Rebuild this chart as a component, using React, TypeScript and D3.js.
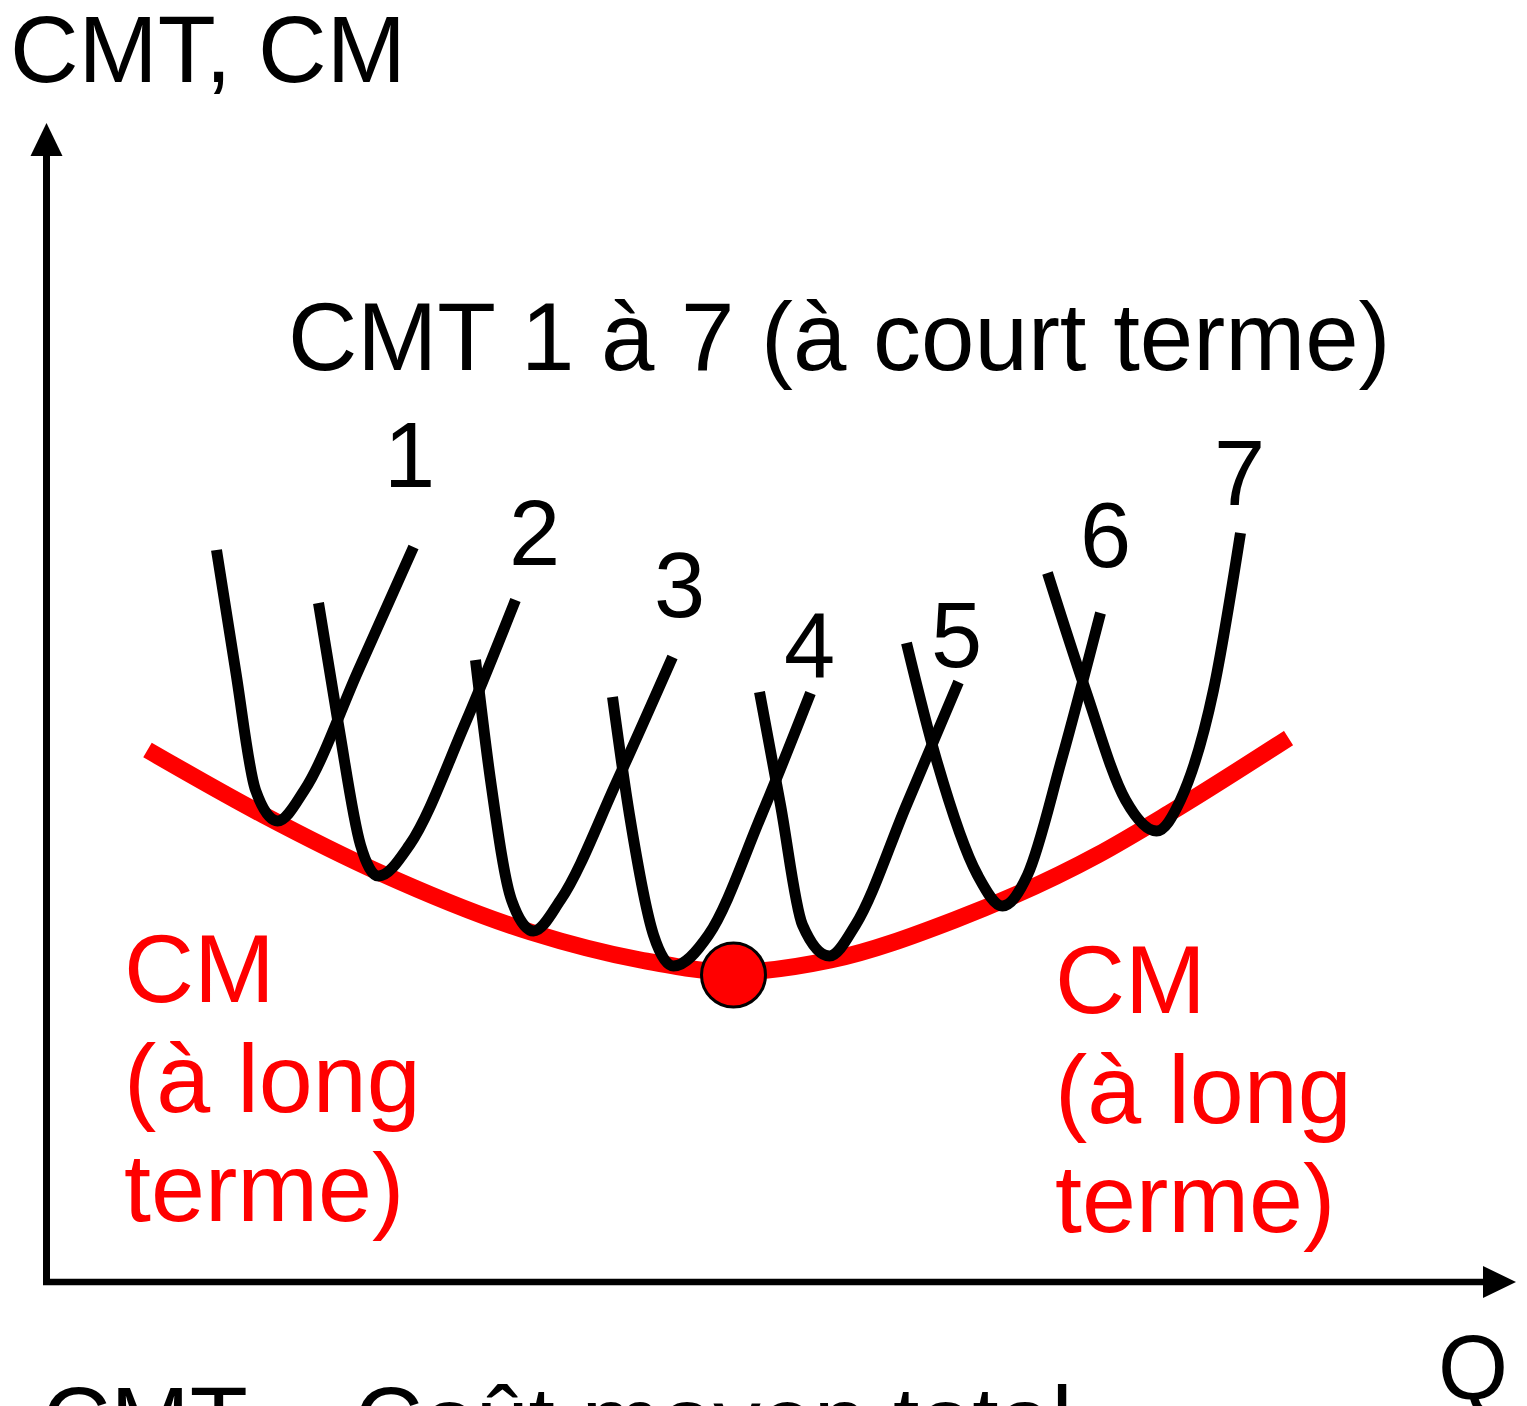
import React from 'react';
import * as d3 from 'd3';

// Q = quantité, C = coût (unités)
type Pt = [number, number];

// CM à long terme (courbe rouge)
const cmLongTerme: Pt[] = [
  [101, 532], [217, 467], [334, 409], [484, 350], [594, 322], [687, 310],
  [784, 322], [908, 362], [1051, 427], [1123, 469], [1242, 544],
];

// CMT 1 à 7 (à court terme) : haut gauche, bras gauche, bas, bras droit, haut droit
const cmt1: Pt[] = [[170, 732], [189, 612], [209, 492], [231, 461], [258, 492], [312, 612], [367, 735]];
const cmt2: Pt[] = [[272, 679], [292, 557], [314, 437], [332, 406], [363, 437], [418, 557], [469, 682]];
const cmt3: Pt[] = [[429, 622], [444, 502], [465, 382], [487, 351], [514, 382], [571, 502], [626, 625]];
const cmt4: Pt[] = [[566, 585], [583, 467], [607, 347], [627, 316], [662, 347], [715, 467], [764, 589]];
const cmt5: Pt[] = [[713, 590], [734, 477], [756, 357], [783, 326], [809, 357], [860, 477], [912, 600]];
const cmt6: Pt[] = [[860, 639], [890, 522], [931, 407], [956, 376], [981, 407], [1015, 522], [1054, 669]];
const cmt7: Pt[] = [[1001, 709], [1039, 592], [1079, 482], [1110, 451], [1134, 482], [1167, 592], [1194, 749]];
const courtTerme = [cmt1, cmt2, cmt3, cmt4, cmt5, cmt6, cmt7];

const curveLabels = ['1', '2', '3', '4', '5', '6', '7'];
const labelAnchors: Pt[] = [
  [363, 795], [488, 717], [633, 665], [763, 605], [910, 615], [1059, 715], [1193, 777],
];

// minimum du CM à long terme
const minimumCM: Pt = [687, 307];

const FONT = '"Liberation Sans", Arial, sans-serif';

const App: React.FC = () => {
  const width = 1527;
  const height = 1406;
  const origin = { x: 46.5, y: 1282 };

  const x = d3.scaleLinear().domain([0, 1470]).range([origin.x, origin.x + 1470]);
  const y = d3.scaleLinear().domain([0, 1160]).range([origin.y, origin.y - 1160]);

  const line = d3
    .line<Pt>()
    .x(d => x(d[0]))
    .y(d => y(d[1]))
    .curve(d3.curveMonotoneX);

  const axisTopY = 123;
  const axisRightX = 1516;

  return (
    <svg
      width={width}
      height={height}
      style={{ position: 'absolute', left: 0, top: 0, display: 'block', background: '#fff' }}
      fontFamily={FONT}
    >
      {/* axes */}
      <line x1={origin.x} y1={origin.y} x2={origin.x} y2={axisTopY + 30} stroke="#000" strokeWidth={7} />
      <line x1={origin.x - 3.5} y1={origin.y} x2={axisRightX - 30} y2={origin.y} stroke="#000" strokeWidth={6.5} />
      <path
        d={`M${origin.x},${axisTopY} L${origin.x - 16},${axisTopY + 33} L${origin.x + 16},${axisTopY + 33} Z`}
        fill="#000"
      />
      <path
        d={`M${axisRightX},${origin.y} L${axisRightX - 33},${origin.y - 16} L${axisRightX - 33},${origin.y + 16} Z`}
        fill="#000"
      />

      {/* titres */}
      <text x={10} y={82} fontSize={95} fill="#000">CMT, CM</text>
      <text x={1438} y={1399} fontSize={90} fill="#000">Q</text>
      <text x={288} y={370} fontSize={96} fill="#000">CMT 1 à 7 (à court terme)</text>
      <text x={42} y={1453} fontSize={95} fill="#000">CMT = Coût moyen total</text>

      {/* CM à long terme */}
      <path d={line(cmLongTerme) || ''} fill="none" stroke="#ff0000" strokeWidth={17} strokeLinecap="butt" />

      {/* CMT à court terme */}
      {courtTerme.map((pts, i) => (
        <path key={i} d={line(pts) || ''} fill="none" stroke="#000" strokeWidth={11} strokeLinecap="butt" />
      ))}

      {curveLabels.map((lab, i) => (
        <text
          key={lab}
          x={x(labelAnchors[i][0])}
          y={y(labelAnchors[i][1])}
          fontSize={92}
          textAnchor="middle"
          fill="#000"
        >
          {lab}
        </text>
      ))}

      <circle cx={x(minimumCM[0])} cy={y(minimumCM[1])} r={32} fill="#ff0000" stroke="#000" strokeWidth={3} />

      {/* étiquettes CM */}
      <g fill="#ff0000" fontSize={97}>
        <text x={124} y={1002}>CM</text>
        <text x={124} y={1112}>(à long</text>
        <text x={124} y={1221}>terme)</text>
        <text x={1055} y={1013}>CM</text>
        <text x={1055} y={1123}>(à long</text>
        <text x={1055} y={1232}>terme)</text>
      </g>
    </svg>
  );
};

export default App;
